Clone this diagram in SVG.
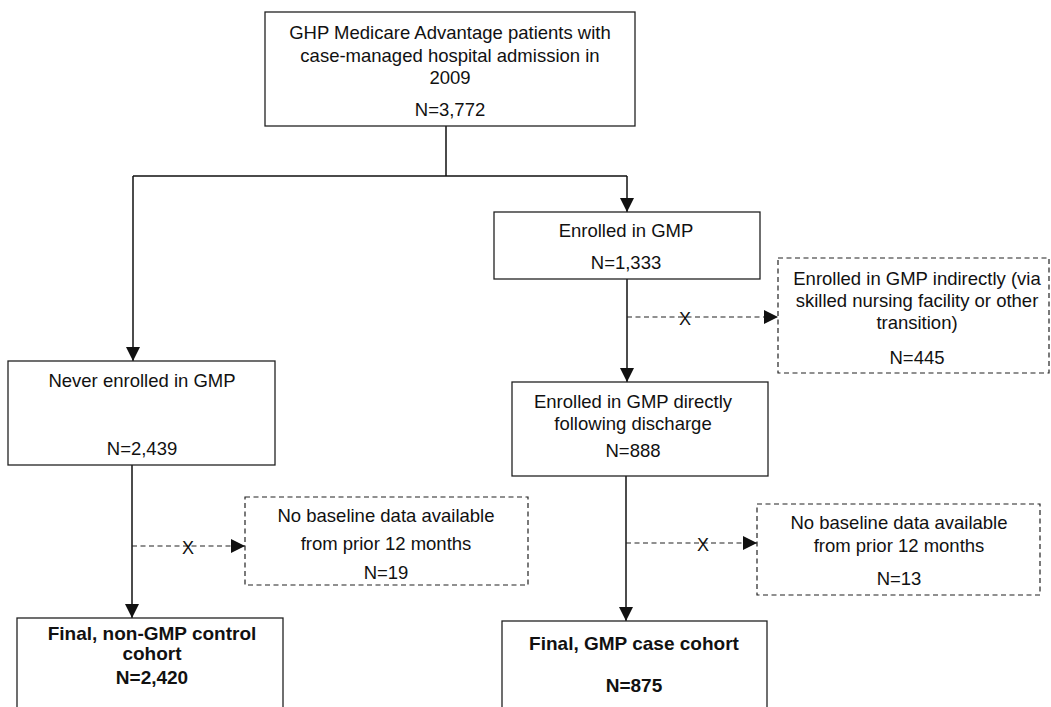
<svg xmlns="http://www.w3.org/2000/svg" width="1051" height="707" viewBox="0 0 1051 707">
<defs>
<style>
.box{fill:#fff;stroke:#222;stroke-width:1.3}
.dbox{fill:#fff;stroke:#222;stroke-width:1.2;stroke-dasharray:5,3.5}
.ln{fill:none;stroke:#111;stroke-width:1.5}
.dl{fill:none;stroke:#222;stroke-width:1.2;stroke-dasharray:5,3.5}
text{font-family:"Liberation Sans",Arial,sans-serif;font-size:18.5px;fill:#111;text-anchor:middle;dominant-baseline:central}
.b{font-weight:bold;font-size:19px}
.x{font-size:18px}
</style>
<marker id="ah" markerWidth="14" markerHeight="14" refX="14" refY="7" orient="auto" markerUnits="userSpaceOnUse">
<path d="M0,0 L14,7 L0,14 Z" fill="#111"/>
</marker>
</defs>
<rect width="1051" height="707" fill="#fff"/>
<g id="connectors">
<path class="ln" d="M446,126 V176 M133,176 H627"/>
<path class="ln" d="M627,176 V212" marker-end="url(#ah)"/>
<path class="ln" d="M133,176 V361" marker-end="url(#ah)"/>
<path class="ln" d="M627,279 V382" marker-end="url(#ah)"/>
<path class="dl" d="M627,317 H778" marker-end="url(#ah)"/>
<text class="x" x="685" y="319">X</text>
<path class="ln" d="M132,465 V618" marker-end="url(#ah)"/>
<path class="dl" d="M132,546 H245" marker-end="url(#ah)"/>
<text class="x" x="188" y="548">X</text>
<path class="ln" d="M626,476 V621" marker-end="url(#ah)"/>
<path class="dl" d="M626,543 H757" marker-end="url(#ah)"/>
<text class="x" x="703" y="545">X</text>
</g>
<g id="n-top">
<rect class="box" x="265" y="12" width="370" height="114"/>
<text x="450" y="32">GHP Medicare Advantage patients with</text>
<text x="450" y="55">case-managed hospital admission in</text>
<text x="450" y="77">2009</text>
<text x="450" y="109">N=3,772</text>
</g>
<g id="n-enrolled">
<rect class="box" x="494" y="212" width="266" height="67"/>
<text x="626" y="230">Enrolled in GMP</text>
<text x="626" y="262">N=1,333</text>
</g>
<g id="n-indirect">
<rect class="dbox" x="778" y="258" width="271" height="115"/>
<text x="917" y="278">Enrolled in GMP indirectly (via</text>
<text x="917" y="300">skilled nursing facility or other</text>
<text x="917" y="322">transition)</text>
<text x="917" y="357">N=445</text>
</g>
<g id="n-never">
<rect class="box" x="8" y="361" width="267" height="104"/>
<text x="142" y="380">Never enrolled in GMP</text>
<text x="142" y="448">N=2,439</text>
</g>
<g id="n-direct">
<rect class="box" x="512" y="382" width="256" height="94"/>
<text x="633" y="401">Enrolled in GMP directly</text>
<text x="633" y="423">following discharge</text>
<text x="633" y="450">N=888</text>
</g>
<g id="n-nobase1">
<rect class="dbox" x="245" y="497" width="283" height="88"/>
<text x="386" y="515">No baseline data available</text>
<text x="386" y="543">from prior 12 months</text>
<text x="386" y="572">N=19</text>
</g>
<g id="n-nobase2">
<rect class="dbox" x="757" y="504" width="283" height="91"/>
<text x="899" y="522">No baseline data available</text>
<text x="899" y="545">from prior 12 months</text>
<text x="899" y="578">N=13</text>
</g>
<g id="n-final-control">
<rect class="box" x="17" y="618" width="266" height="100"/>
<text class="b" x="152" y="633">Final, non-GMP control</text>
<text class="b" x="152" y="653">cohort</text>
<text class="b" x="152" y="677">N=2,420</text>
</g>
<g id="n-final-case">
<rect class="box" x="502" y="621" width="265" height="100"/>
<text class="b" x="634" y="643">Final, GMP case cohort</text>
<text class="b" x="634" y="685">N=875</text>
</g>
</svg>
